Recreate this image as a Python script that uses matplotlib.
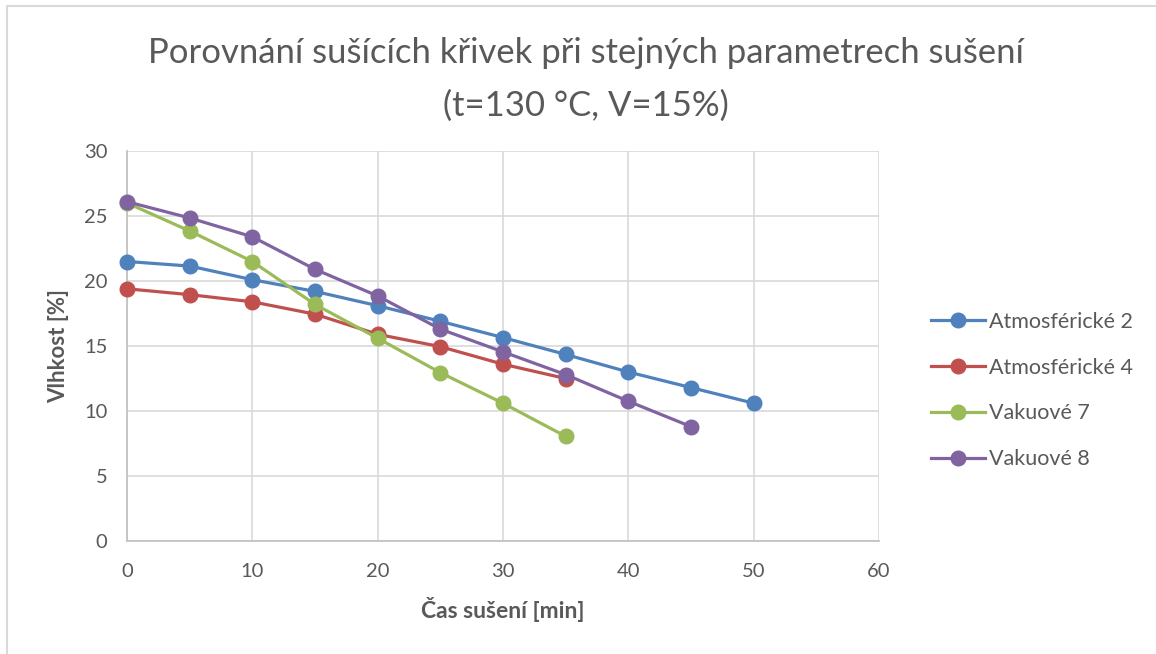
import matplotlib
matplotlib.use('Agg')
import matplotlib.pyplot as plt
from matplotlib.lines import Line2D

plt.rcParams['font.family'] = ['Lato', 'DejaVu Sans']

# drying time [min]
cas = [0, 5, 10, 15, 20, 25, 30, 35, 40, 45, 50]

# moisture [%] per sample
atmo_2 = [21.5, 21.15, 20.1, 19.2, 18.1, 16.9, 15.65, 14.35, 13.0, 11.8, 10.6]
atmo_4 = [19.4, 18.95, 18.4, 17.45, 15.9, 14.95, 13.6, 12.5]
vak_7 = [26.0, 23.85, 21.5, 18.2, 15.6, 12.95, 10.6, 8.05]
vak_8 = [26.1, 24.85, 23.4, 20.9, 18.85, 16.3, 14.55, 12.8, 10.75, 8.8]

series = [
    ('Atmosférické 2', atmo_2, '#4f81bd'),
    ('Atmosférické 4', atmo_4, '#c0504d'),
    ('Vakuové 7', vak_7, '#9bbb59'),
    ('Vakuové 8', vak_8, '#8064a2'),
]

x_ticks = [0, 10, 20, 30, 40, 50, 60]
y_ticks = [0, 5, 10, 15, 20, 25, 30]

W, H = 1156, 654
fig = plt.figure(figsize=(W / 100, H / 100), dpi=100)
ax = fig.add_axes([127 / W, 1 - 541 / H, (879 - 127) / W, (541 - 151) / H])

for name, vals, col in series:
    ax.plot(cas[:len(vals)], vals, color=col, linewidth=2.3, marker='o',
            markersize=10.5, label=name, zorder=3, clip_on=False)

ax.set_xlim(0, 60)
ax.set_ylim(0, 30)
ax.set_xticks(x_ticks)
ax.set_yticks(y_ticks)
ax.grid(True, color='#d9d9d9', linewidth=1.2)
ax.set_axisbelow(True)
for side in ['top', 'right']:
    ax.spines[side].set_visible(False)
for side in ['left', 'bottom']:
    ax.spines[side].set_color('#bfbfbf')
    ax.spines[side].set_linewidth(1.2)
ax.tick_params(length=0, labelsize=14.5, colors='#595959')
ax.tick_params(axis='x', pad=16)
ax.tick_params(axis='y', pad=14)

ax.set_xlabel('Čas sušení [min]', fontsize=16.5, fontweight='bold', color='#595959', va='baseline')
ax.xaxis.set_label_coords(0.5, (541 - 618) / 390)
ax.set_ylabel('Vlhkost [%]', fontsize=16, fontweight='bold', color='#595959', va='center')
ax.yaxis.set_label_coords((59 - 127) / 752, 0.5)

fig.text(586 / W, 1 - 63 / H, 'Porovnání sušících křivek při stejných parametrech sušení',
         ha='center', va='baseline', fontsize=24.9, color='#595959')
fig.text(586 / W, 1 - 116 / H, '(t=130 °C, V=15%)',
         ha='center', va='baseline', fontsize=24.9, color='#595959')

ax.legend(loc='center left', bbox_to_anchor=((931 - 127) / 752, (541 - 390.5) / 390),
          frameon=False, fontsize=15.5, labelcolor='#595959', handlelength=2.5,
          handletextpad=0.2, labelspacing=1.2, borderpad=0, borderaxespad=0)

# chart border (only top and left edges visible)
fig.add_artist(Line2D([7 / W, 7 / W, 1], [0, 1 - 6 / H, 1 - 6 / H],
                      transform=fig.transFigure, color='#d9d9d9', linewidth=1.5))

fig.savefig('out.png', dpi=100)
